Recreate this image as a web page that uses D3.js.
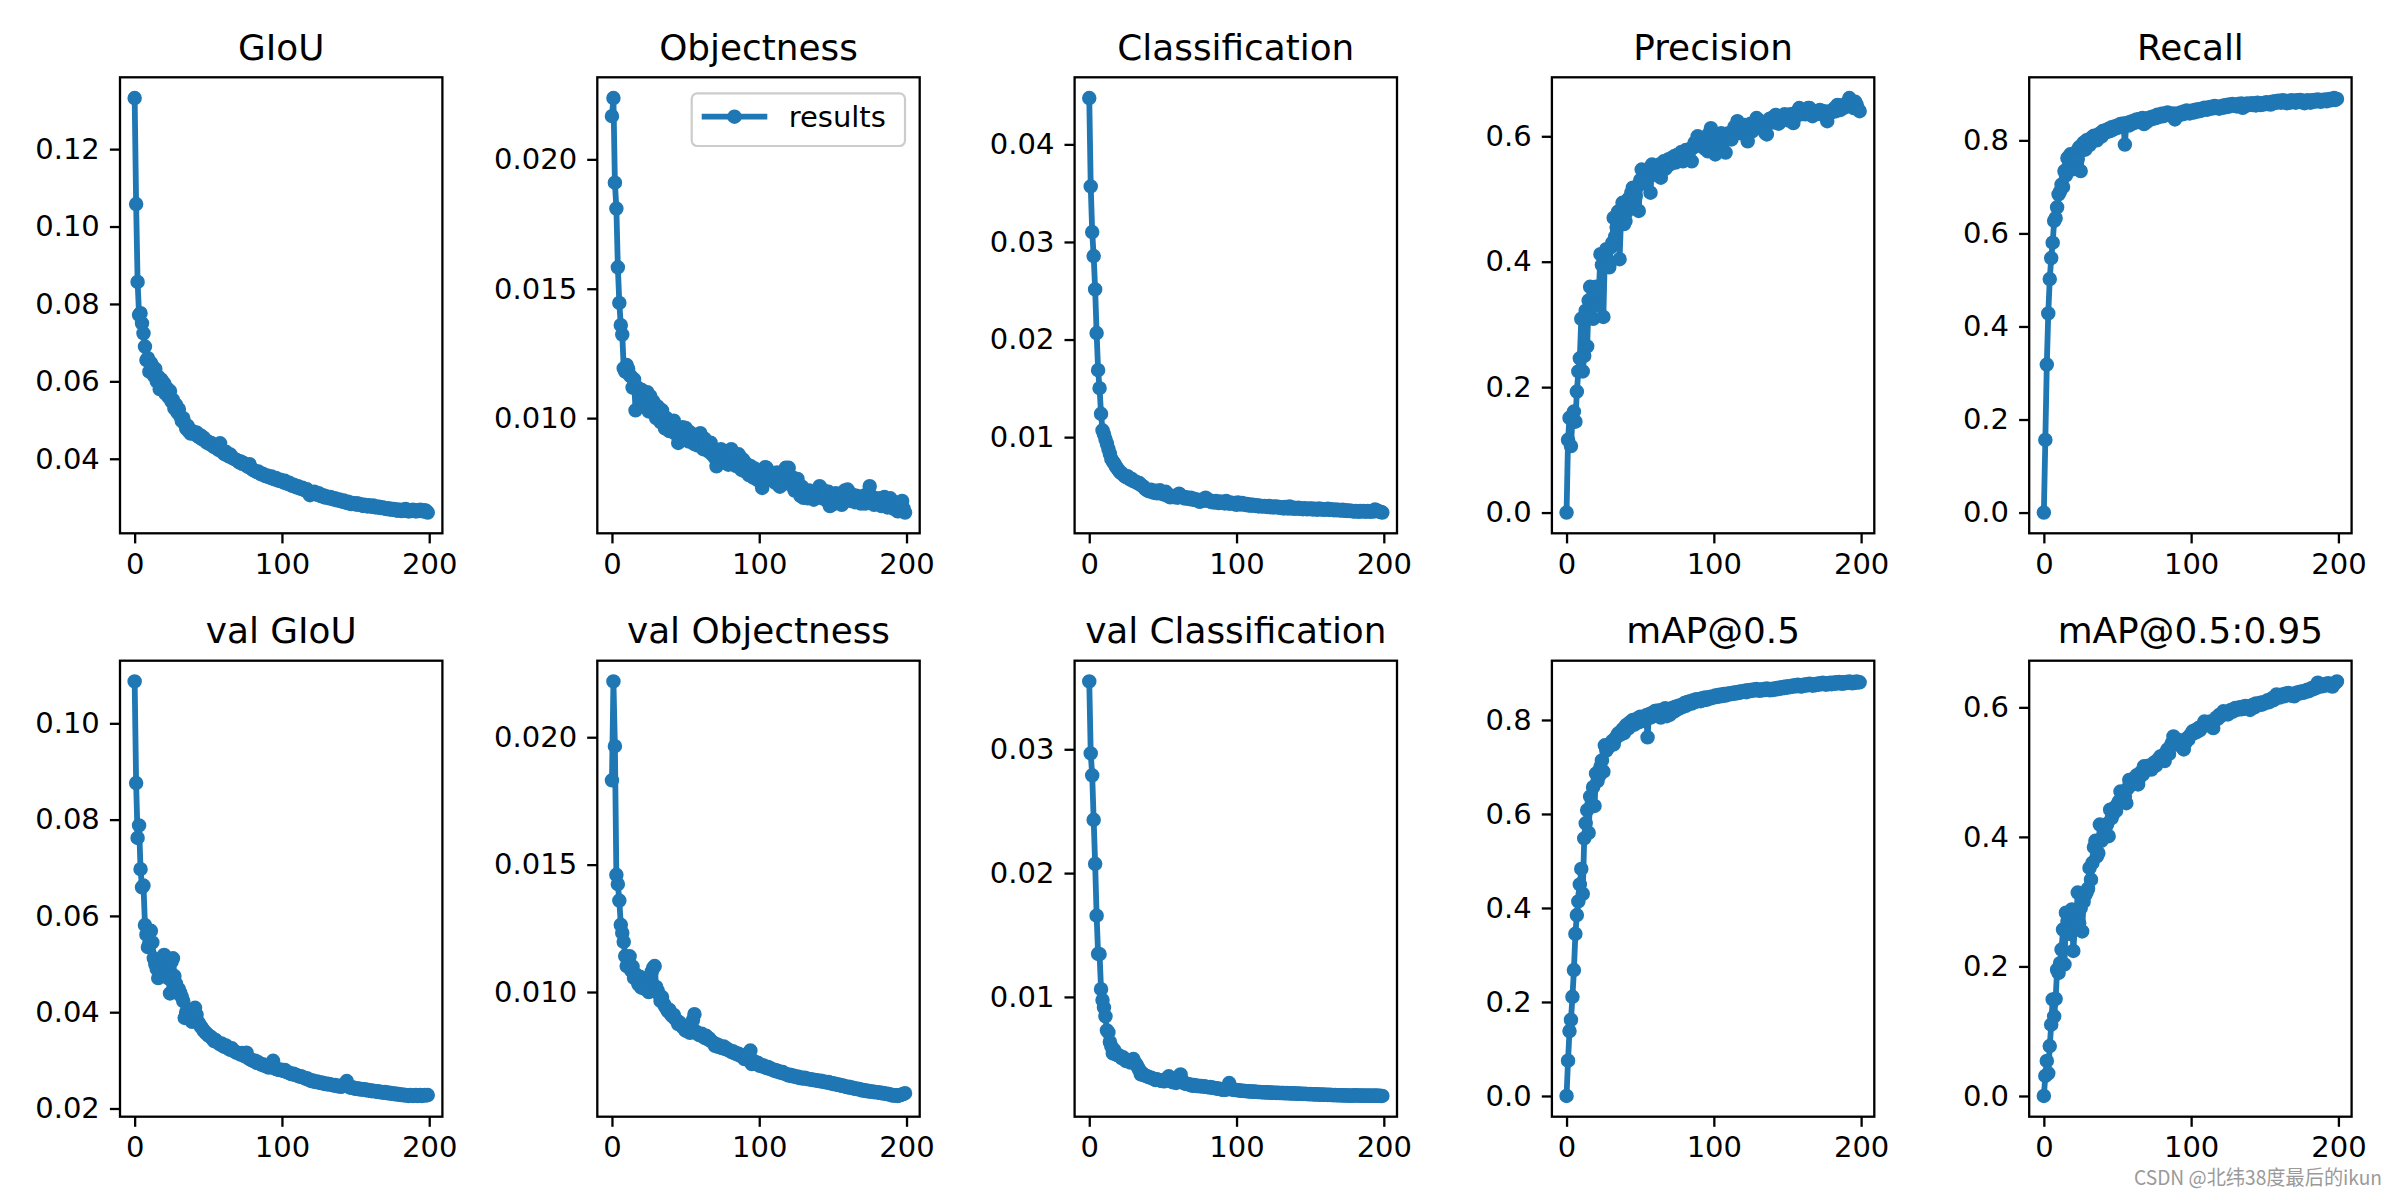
<!DOCTYPE html>
<html><head><meta charset="utf-8">
<script src="https://cdn.jsdelivr.net/npm/d3@7"></script>
<style>body{margin:0;background:#fff}svg{display:block}</style>
</head><body><svg id="c" width="2400" height="1200"></svg>
<script>
const epochs = d3.range(200);

const giou = [
0.1332,0.1058,0.0857,0.0772,0.0776,0.0750,0.0724,0.0690,0.0655,0.0660,
0.0625,0.0648,0.0640,0.0615,0.0632,0.0600,0.0612,0.0580,0.0605,0.0598,
0.0595,0.0568,0.0582,0.0560,0.0575,0.0548,0.0552,0.0530,0.0540,0.0520,
0.0528,0.0510,0.0498,0.0505,0.0490,0.0478,0.0485,0.0470,0.0465,0.0472,
0.0468,0.0463,0.0468,0.0458,0.0455,0.0460,0.0450,0.0454,0.0446,0.0442,
0.0444,0.0438,0.0441,0.0433,0.0430,0.0435,0.0427,0.0423,0.0440,0.0420,
0.0416,0.0412,0.0418,0.0409,0.0406,0.0411,0.0403,0.0401,0.0399,0.0397,
0.0395,0.0391,0.0393,0.0387,0.0389,0.0385,0.0382,0.0379,0.0386,0.0376,
0.0372,0.0370,0.0368,0.0366,0.0367,0.0362,0.0360,0.0361,0.0357,0.0355,
0.0357,0.0353,0.0351,0.0354,0.0349,0.0347,0.0350,0.0345,0.0343,0.0346,
0.0342,0.0339,0.0343,0.0337,0.0335,0.0338,0.0333,0.0330,0.0333,0.0328,
0.0326,0.0329,0.0324,0.0322,0.0325,0.0320,0.0318,0.0321,0.0316,0.0306,
0.0314,0.0312,0.0315,0.0310,0.0307,0.0311,0.0305,0.0303,0.0306,0.0300,
0.0303,0.0300,0.0298,0.0301,0.0297,0.0295,0.0298,0.0294,0.0292,0.0295,
0.0291,0.0289,0.0292,0.0288,0.0286,0.0289,0.0285,0.0283,0.0286,0.0284,
0.0282,0.0285,0.0281,0.0283,0.0280,0.0278,0.0281,0.0279,0.0277,0.0280,
0.0278,0.0276,0.0279,0.0275,0.0277,0.0274,0.0276,0.0273,0.0275,0.0272,
0.0273,0.0270,0.0272,0.0269,0.0271,0.0268,0.0270,0.0268,0.0266,0.0269,
0.0267,0.0265,0.0268,0.0266,0.0270,0.0266,0.0264,0.0267,0.0265,0.0268,
0.0266,0.0264,0.0267,0.0265,0.0268,0.0266,0.0264,0.0267,0.0265,0.0261];

const objectness = [
0.02167,0.02237,0.01910,0.01810,0.01583,0.01445,0.01359,0.01323,0.01192,0.01180,
0.01205,0.01190,0.01167,0.01160,0.01118,0.01150,0.01030,0.01120,0.01100,0.01080,
0.01110,0.01075,0.01095,0.01060,0.01100,0.01026,0.01085,0.01040,0.01065,0.01020,
0.01000,0.01045,0.01010,0.00985,0.01030,0.00990,0.00960,0.01000,0.00975,0.00950,
0.00974,0.00955,0.00990,0.00940,0.00960,0.00904,0.00950,0.00930,0.00965,0.00920,
0.00962,0.00935,0.00910,0.00945,0.00925,0.00923,0.00900,0.00935,0.00895,0.00915,
0.00942,0.00905,0.00880,0.00920,0.00895,0.00885,0.00870,0.00905,0.00860,0.00880,
0.00846,0.00814,0.00870,0.00840,0.00880,0.00855,0.00830,0.00870,0.00845,0.00820,
0.00859,0.00880,0.00835,0.00850,0.00815,0.00833,0.00860,0.00820,0.00800,0.00840,
0.00795,0.00825,0.00810,0.00780,0.00815,0.00800,0.00770,0.00805,0.00785,0.00760,
0.00769,0.00795,0.00730,0.00780,0.00810,0.00808,0.00770,0.00790,0.00760,0.00780,
0.00775,0.00750,0.00790,0.00760,0.00735,0.00744,0.00770,0.00790,0.00808,0.00780,
0.00808,0.00760,0.00740,0.00770,0.00720,0.00750,0.00765,0.00725,0.00700,0.00735,
0.00692,0.00715,0.00700,0.00690,0.00720,0.00695,0.00705,0.00685,0.00710,0.00700,
0.00705,0.00737,0.00710,0.00690,0.00720,0.00700,0.00680,0.00715,0.00660,0.00690,
0.00667,0.00695,0.00710,0.00680,0.00700,0.00690,0.00665,0.00700,0.00720,0.00690,
0.00724,0.00700,0.00680,0.00705,0.00690,0.00675,0.00700,0.00680,0.00695,0.00670,
0.00680,0.00700,0.00670,0.00690,0.00710,0.00737,0.00700,0.00680,0.00665,0.00690,
0.00685,0.00670,0.00690,0.00660,0.00680,0.00695,0.00670,0.00655,0.00680,0.00690,
0.00665,0.00650,0.00675,0.00655,0.00640,0.00641,0.00660,0.00680,0.00650,0.00635];

const classification = [
0.04475,0.03569,0.03102,0.02855,0.02514,0.02067,0.01686,0.01502,0.01239,0.01070,
0.01030,0.00980,0.00933,0.00880,0.00830,0.00776,0.00750,0.00730,0.00700,0.00680,
0.00660,0.00640,0.00630,0.00615,0.00600,0.00590,0.00600,0.00575,0.00565,0.00570,
0.00550,0.00545,0.00540,0.00525,0.00530,0.00510,0.00500,0.00490,0.00470,0.00460,
0.00450,0.00443,0.00460,0.00440,0.00430,0.00450,0.00425,0.00440,0.00455,0.00420,
0.00424,0.00410,0.00440,0.00400,0.00395,0.00384,0.00400,0.00390,0.00385,0.00395,
0.00380,0.00420,0.00405,0.00390,0.00380,0.00370,0.00385,0.00375,0.00365,0.00378,
0.00360,0.00368,0.00355,0.00362,0.00350,0.00337,0.00345,0.00360,0.00350,0.00380,
0.00365,0.00345,0.00350,0.00335,0.00340,0.00330,0.00345,0.00335,0.00325,0.00340,
0.00330,0.00335,0.00320,0.00345,0.00328,0.00318,0.00330,0.00322,0.00315,0.00325,
0.00306,0.00330,0.00318,0.00310,0.00325,0.00312,0.00305,0.00315,0.00300,0.00310,
0.00298,0.00308,0.00300,0.00295,0.00302,0.00290,0.00298,0.00292,0.00288,0.00295,
0.00290,0.00285,0.00295,0.00282,0.00288,0.00280,0.00286,0.00290,0.00278,0.00284,
0.00275,0.00282,0.00270,0.00285,0.00276,0.00268,0.00290,0.00272,0.00278,0.00266,
0.00274,0.00268,0.00276,0.00265,0.00270,0.00262,0.00272,0.00266,0.00260,0.00268,
0.00264,0.00270,0.00258,0.00266,0.00262,0.00256,0.00268,0.00260,0.00264,0.00255,
0.00262,0.00258,0.00265,0.00254,0.00260,0.00256,0.00252,0.00258,0.00250,0.00256,
0.00252,0.00248,0.00255,0.00246,0.00250,0.00244,0.00248,0.00242,0.00246,0.00240,
0.00238,0.00244,0.00240,0.00236,0.00242,0.00238,0.00244,0.00240,0.00236,0.00242,
0.00240,0.00236,0.00242,0.00238,0.00258,0.00250,0.00244,0.00236,0.00232,0.00227];

const precision = [
0.000,0.116,0.151,0.106,0.150,0.161,0.145,0.193,0.225,0.246,
0.309,0.225,0.250,0.322,0.265,0.338,0.360,0.330,0.309,0.350,
0.360,0.330,0.354,0.412,0.395,0.312,0.410,0.420,0.400,0.391,
0.423,0.430,0.470,0.440,0.455,0.480,0.404,0.470,0.494,0.460,
0.465,0.480,0.500,0.490,0.510,0.518,0.495,0.505,0.520,0.481,
0.530,0.547,0.530,0.525,0.540,0.545,0.535,0.510,0.555,0.545,
0.540,0.550,0.545,0.555,0.534,0.550,0.560,0.548,0.555,0.563,
0.555,0.565,0.560,0.568,0.558,0.570,0.562,0.571,0.575,0.560,
0.570,0.578,0.565,0.575,0.580,0.560,0.582,0.590,0.585,0.600,
0.595,0.585,0.590,0.598,0.580,0.590,0.576,0.605,0.613,0.600,
0.590,0.571,0.595,0.600,0.585,0.605,0.592,0.600,0.574,0.598,
0.605,0.600,0.595,0.608,0.615,0.610,0.624,0.612,0.605,0.615,
0.610,0.618,0.605,0.592,0.612,0.620,0.608,0.615,0.622,0.629,
0.618,0.625,0.615,0.622,0.610,0.605,0.603,0.620,0.628,0.625,
0.630,0.622,0.634,0.628,0.620,0.632,0.625,0.630,0.635,0.628,
0.632,0.625,0.635,0.628,0.621,0.630,0.638,0.640,0.645,0.635,
0.638,0.642,0.635,0.640,0.645,0.645,0.638,0.632,0.640,0.637,
0.640,0.636,0.642,0.638,0.635,0.640,0.630,0.624,0.635,0.640,
0.638,0.642,0.645,0.640,0.650,0.648,0.642,0.645,0.650,0.646,
0.648,0.655,0.661,0.652,0.648,0.645,0.655,0.650,0.643,0.640];

const recall = [
0.000,0.156,0.318,0.428,0.502,0.547,0.580,0.627,0.633,0.656,
0.684,0.690,0.705,0.700,0.734,0.725,0.762,0.745,0.770,0.765,
0.738,0.770,0.775,0.760,0.785,0.734,0.790,0.795,0.780,0.800,
0.800,0.790,0.805,0.798,0.810,0.807,0.800,0.812,0.815,0.808,
0.820,0.815,0.822,0.818,0.825,0.820,0.828,0.823,0.830,0.826,
0.832,0.828,0.835,0.830,0.836,0.791,0.834,0.838,0.832,0.840,
0.836,0.842,0.838,0.845,0.840,0.846,0.842,0.848,0.835,0.845,
0.840,0.848,0.845,0.850,0.846,0.852,0.848,0.855,0.850,0.853,
0.857,0.852,0.858,0.854,0.860,0.855,0.857,0.852,0.858,0.845,
0.852,0.858,0.855,0.860,0.856,0.862,0.858,0.864,0.860,0.858,
0.861,0.864,0.860,0.866,0.862,0.867,0.863,0.868,0.865,0.870,
0.869,0.866,0.871,0.868,0.872,0.869,0.874,0.870,0.872,0.868,
0.873,0.870,0.875,0.871,0.876,0.872,0.877,0.874,0.878,0.875,
0.876,0.873,0.878,0.875,0.879,0.870,0.877,0.874,0.879,0.876,
0.877,0.880,0.876,0.879,0.875,0.881,0.878,0.876,0.880,0.877,
0.879,0.882,0.878,0.881,0.877,0.883,0.880,0.884,0.881,0.885,
0.884,0.881,0.886,0.882,0.885,0.880,0.884,0.881,0.886,0.883,
0.885,0.881,0.886,0.883,0.887,0.882,0.885,0.880,0.884,0.886,
0.884,0.881,0.886,0.883,0.887,0.884,0.888,0.885,0.883,0.887,
0.885,0.888,0.884,0.887,0.889,0.886,0.888,0.891,0.887,0.889];

const valGiou = [
0.1087,0.0876,0.0762,0.0788,0.0697,0.0659,0.0663,0.0581,0.0561,0.0535,
0.0543,0.0569,0.0545,0.0512,0.0500,0.0490,0.0471,0.0505,0.0490,0.0478,
0.0519,0.0495,0.0480,0.0470,0.0439,0.0505,0.0512,0.0475,0.0460,0.0440,
0.0448,0.0440,0.0432,0.0423,0.0388,0.0400,0.0395,0.0390,0.0385,0.0380,
0.0402,0.0409,0.0395,0.0380,0.0375,0.0370,0.0366,0.0361,0.0358,0.0355,
0.0352,0.0350,0.0348,0.0344,0.0340,0.0342,0.0338,0.0336,0.0333,0.0335,
0.0330,0.0328,0.0331,0.0326,0.0324,0.0322,0.0325,0.0320,0.0318,0.0316,
0.0316,0.0314,0.0312,0.0315,0.0310,0.0308,0.0316,0.0305,0.0303,0.0301,
0.0300,0.0298,0.0299,0.0295,0.0296,0.0293,0.0291,0.0292,0.0289,0.0288,
0.0287,0.0285,0.0286,0.0290,0.0299,0.0284,0.0282,0.0281,0.0280,0.0281,
0.0279,0.0278,0.0280,0.0276,0.0275,0.0274,0.0272,0.0271,0.0272,0.0270,
0.0269,0.0268,0.0266,0.0267,0.0265,0.0264,0.0262,0.0263,0.0260,0.0259,
0.0257,0.0258,0.0256,0.0255,0.0256,0.0254,0.0253,0.0254,0.0252,0.0251,
0.0252,0.0250,0.0251,0.0250,0.0249,0.0248,0.0249,0.0247,0.0246,0.0247,
0.0245,0.0246,0.0248,0.0252,0.0257,0.0247,0.0244,0.0243,0.0244,0.0242,
0.0241,0.0242,0.0240,0.0241,0.0239,0.0240,0.0240,0.0238,0.0239,0.0237,
0.0238,0.0236,0.0237,0.0236,0.0235,0.0236,0.0234,0.0235,0.0233,0.0233,
0.0234,0.0232,0.0233,0.0231,0.0232,0.0231,0.0230,0.0231,0.0229,0.0230,
0.0229,0.0228,0.0229,0.0227,0.0228,0.0227,0.0226,0.0228,0.0227,0.0226,
0.0227,0.0228,0.0226,0.0227,0.0228,0.0226,0.0227,0.0228,0.0227,0.0228];

const valObjectness = [
0.01831,0.02219,0.01965,0.01460,0.01423,0.01359,0.01264,0.01232,0.01197,0.01141,
0.01102,0.01121,0.01140,0.01085,0.01100,0.01056,0.01070,0.01045,0.01030,0.01060,
0.01017,0.01040,0.01025,0.01010,0.01035,0.01000,0.01060,0.01080,0.01095,0.01102,
0.01020,0.01005,0.00990,0.00965,0.00980,0.00955,0.00945,0.00935,0.00925,0.00930,
0.00913,0.00905,0.00910,0.00895,0.00888,0.00874,0.00880,0.00870,0.00862,0.00866,
0.00848,0.00855,0.00845,0.00840,0.00860,0.00890,0.00913,0.00845,0.00838,0.00832,
0.00830,0.00836,0.00825,0.00820,0.00828,0.00815,0.00818,0.00808,0.00805,0.00800,
0.00789,0.00795,0.00785,0.00790,0.00782,0.00780,0.00786,0.00776,0.00778,0.00772,
0.00770,0.00765,0.00768,0.00760,0.00762,0.00755,0.00758,0.00750,0.00752,0.00745,
0.00737,0.00742,0.00735,0.00750,0.00770,0.00717,0.00730,0.00725,0.00720,0.00722,
0.00711,0.00715,0.00708,0.00712,0.00705,0.00702,0.00706,0.00698,0.00700,0.00695,
0.00691,0.00694,0.00688,0.00690,0.00685,0.00683,0.00686,0.00680,0.00678,0.00676,
0.00672,0.00675,0.00670,0.00672,0.00668,0.00666,0.00668,0.00663,0.00665,0.00661,
0.00662,0.00664,0.00659,0.00660,0.00657,0.00658,0.00655,0.00656,0.00653,0.00654,
0.00652,0.00650,0.00652,0.00648,0.00649,0.00646,0.00645,0.00647,0.00642,0.00643,
0.00639,0.00641,0.00638,0.00636,0.00637,0.00634,0.00632,0.00633,0.00630,0.00628,
0.00626,0.00628,0.00624,0.00625,0.00622,0.00620,0.00621,0.00618,0.00619,0.00616,
0.00613,0.00615,0.00612,0.00613,0.00610,0.00611,0.00609,0.00610,0.00607,0.00608,
0.00607,0.00605,0.00606,0.00603,0.00604,0.00601,0.00602,0.00599,0.00600,0.00597,
0.00594,0.00596,0.00593,0.00595,0.00592,0.00594,0.00596,0.00598,0.00600,0.00603];

const valClassification = [
0.03548,0.02966,0.02790,0.02430,0.02075,0.01656,0.01348,0.01345,0.01062,0.00975,
0.00914,0.00843,0.00729,0.00713,0.00636,0.00600,0.00544,0.00570,0.00540,0.00530,
0.00528,0.00520,0.00505,0.00512,0.00495,0.00482,0.00490,0.00480,0.00470,0.00485,
0.00498,0.00470,0.00455,0.00430,0.00410,0.00374,0.00385,0.00370,0.00365,0.00360,
0.00355,0.00350,0.00348,0.00342,0.00338,0.00328,0.00335,0.00330,0.00325,0.00322,
0.00320,0.00318,0.00325,0.00345,0.00359,0.00340,0.00315,0.00310,0.00312,0.00305,
0.00320,0.00360,0.00374,0.00330,0.00305,0.00300,0.00298,0.00295,0.00292,0.00290,
0.00282,0.00288,0.00285,0.00280,0.00283,0.00278,0.00281,0.00276,0.00279,0.00274,
0.00273,0.00270,0.00272,0.00268,0.00266,0.00264,0.00262,0.00260,0.00258,0.00256,
0.00251,0.00254,0.00250,0.00252,0.00275,0.00304,0.00265,0.00252,0.00250,0.00249,
0.00248,0.00246,0.00245,0.00243,0.00242,0.00240,0.00241,0.00239,0.00238,0.00237,
0.00236,0.00235,0.00236,0.00234,0.00233,0.00232,0.00233,0.00231,0.00230,0.00231,
0.00229,0.00230,0.00228,0.00229,0.00227,0.00226,0.00227,0.00225,0.00226,0.00224,
0.00225,0.00223,0.00224,0.00222,0.00223,0.00221,0.00222,0.00220,0.00221,0.00219,
0.00220,0.00218,0.00219,0.00217,0.00218,0.00216,0.00217,0.00215,0.00216,0.00214,
0.00215,0.00213,0.00214,0.00212,0.00213,0.00211,0.00212,0.00210,0.00211,0.00210,
0.00209,0.00210,0.00208,0.00209,0.00207,0.00208,0.00206,0.00207,0.00206,0.00205,
0.00206,0.00205,0.00204,0.00205,0.00203,0.00204,0.00203,0.00202,0.00203,0.00202,
0.00205,0.00204,0.00203,0.00204,0.00202,0.00203,0.00202,0.00203,0.00201,0.00202,
0.00203,0.00202,0.00201,0.00202,0.00203,0.00201,0.00202,0.00201,0.00200,0.00200];

const map50 = [
0.000,0.075,0.138,0.162,0.211,0.268,0.345,0.385,0.414,0.450,
0.483,0.430,0.548,0.580,0.608,0.560,0.637,0.620,0.657,0.617,
0.686,0.670,0.680,0.700,0.714,0.690,0.746,0.735,0.740,0.745,
0.750,0.755,0.748,0.760,0.765,0.771,0.768,0.775,0.780,0.772,
0.787,0.790,0.782,0.795,0.792,0.800,0.790,0.798,0.803,0.795,
0.807,0.800,0.805,0.798,0.810,0.763,0.812,0.805,0.815,0.808,
0.819,0.812,0.820,0.815,0.805,0.822,0.818,0.825,0.808,0.820,
0.811,0.822,0.826,0.818,0.828,0.822,0.830,0.825,0.832,0.828,
0.836,0.830,0.838,0.834,0.840,0.835,0.842,0.838,0.844,0.840,
0.844,0.840,0.846,0.842,0.848,0.843,0.845,0.849,0.846,0.850,
0.848,0.852,0.849,0.853,0.850,0.854,0.851,0.855,0.852,0.856,
0.854,0.857,0.855,0.858,0.856,0.859,0.857,0.860,0.858,0.861,
0.860,0.862,0.859,0.863,0.861,0.864,0.862,0.865,0.863,0.866,
0.864,0.862,0.865,0.863,0.866,0.864,0.867,0.865,0.863,0.866,
0.864,0.867,0.865,0.868,0.866,0.869,0.867,0.870,0.868,0.871,
0.869,0.872,0.870,0.873,0.871,0.874,0.872,0.875,0.873,0.871,
0.872,0.875,0.873,0.876,0.874,0.877,0.875,0.873,0.876,0.874,
0.877,0.875,0.878,0.876,0.879,0.877,0.875,0.878,0.876,0.879,
0.876,0.879,0.877,0.880,0.878,0.881,0.879,0.877,0.880,0.878,
0.881,0.879,0.882,0.880,0.878,0.881,0.879,0.882,0.880,0.880];

const map5095 = [
0.000,0.031,0.054,0.035,0.077,0.110,0.149,0.123,0.150,0.195,
0.190,0.205,0.226,0.257,0.203,0.283,0.270,0.260,0.250,0.288,
0.224,0.260,0.275,0.314,0.267,0.290,0.254,0.300,0.310,0.314,
0.320,0.352,0.334,0.360,0.384,0.394,0.370,0.375,0.419,0.394,
0.400,0.410,0.415,0.420,0.401,0.442,0.429,0.435,0.445,0.440,
0.450,0.455,0.470,0.460,0.465,0.462,0.452,0.475,0.488,0.480,
0.485,0.490,0.484,0.495,0.481,0.492,0.500,0.496,0.509,0.502,
0.505,0.510,0.506,0.504,0.512,0.515,0.510,0.518,0.520,0.524,
0.520,0.526,0.517,0.530,0.535,0.528,0.540,0.545,0.555,0.548,
0.545,0.550,0.542,0.548,0.538,0.535,0.545,0.552,0.550,0.556,
0.558,0.563,0.560,0.565,0.562,0.568,0.565,0.570,0.572,0.578,
0.574,0.576,0.572,0.578,0.575,0.568,0.580,0.584,0.582,0.588,
0.586,0.590,0.594,0.590,0.592,0.589,0.594,0.596,0.593,0.597,
0.599,0.596,0.598,0.600,0.597,0.601,0.598,0.602,0.600,0.598,
0.596,0.602,0.604,0.600,0.606,0.603,0.605,0.607,0.604,0.608,
0.606,0.609,0.611,0.608,0.612,0.614,0.611,0.616,0.620,0.617,
0.615,0.618,0.620,0.617,0.621,0.619,0.622,0.620,0.618,0.621,
0.617,0.620,0.623,0.621,0.624,0.622,0.625,0.623,0.626,0.627,
0.625,0.628,0.630,0.628,0.632,0.630,0.638,0.634,0.632,0.635,
0.633,0.636,0.634,0.637,0.635,0.633,0.632,0.636,0.638,0.640];

const titles = ["GIoU","Objectness","Classification","Precision","Recall",
  "val GIoU","val Objectness","val Classification","mAP@0.5","mAP@0.5:0.95"];
const xTicks = [0,100,200];
const yTicks = [
  [0.04,0.06,0.08,0.10,0.12],[0.010,0.015,0.020],[0.01,0.02,0.03,0.04],[0,0.2,0.4,0.6],[0,0.2,0.4,0.6,0.8],
  [0.02,0.04,0.06,0.08,0.10],[0.010,0.015,0.020],[0.01,0.02,0.03],[0,0.2,0.4,0.6,0.8],[0,0.2,0.4,0.6]];
const yFormats = [".2f",".3f",".2f",".1f",".1f",".2f",".3f",".2f",".1f",".1f"];
const legendLabel = "results";
const watermark = "CSDN @北纬38度最后的ikun";

// ---- layout / style ----
const series = [giou,objectness,classification,precision,recall,valGiou,valObjectness,valClassification,map50,map5095];
const BLUE = "#1f77b4";
const FONT = "'DejaVu Sans', sans-serif";
const left0 = 120, colStep = 477.3, pw = 322.4, ph = 456;
const rowTops = [77.3, 660.7];
const tickLen = 10.1, tickPad = 10.1, lw = 2.3;
const tickFont = "29px", titleFont = "35.8px";
const lineW = 5.8, mR = 5.8, mSW = 2.9;

const svg = d3.select("#c");
svg.append("rect").attr("width",2400).attr("height",1200).attr("fill","#fff");

series.forEach((vals, i) => {
  const col = i % 5, row = Math.floor(i / 5);
  const g = svg.append("g").attr("transform", `translate(${left0 + col*colStep},${rowTops[row]})`);
  const x = d3.scaleLinear().domain([-9.95, 208.95]).range([0, pw]);
  const [mn, mx] = d3.extent(vals);
  const pad = (mx - mn) * 0.05;
  const y = d3.scaleLinear().domain([mn - pad, mx + pad]).range([ph, 0]);

  const line = d3.line().x((d, j) => x(epochs[j])).y(d => y(d));
  g.append("path").datum(vals).attr("d", line)
    .attr("fill","none").attr("stroke",BLUE).attr("stroke-width",lineW)
    .attr("stroke-linejoin","round");
  g.append("g").selectAll("circle").data(vals).join("circle")
    .attr("cx",(d,j)=>x(epochs[j])).attr("cy",d=>y(d)).attr("r",mR)
    .attr("fill",BLUE).attr("stroke",BLUE).attr("stroke-width",mSW);

  const ya = g.append("g").call(d3.axisLeft(y).tickValues(yTicks[i]).tickFormat(d3.format(yFormats[i]))
      .tickSize(tickLen).tickPadding(tickPad));
  const xa = g.append("g").attr("transform",`translate(0,${ph})`)
    .call(d3.axisBottom(x).tickValues(xTicks).tickFormat(d3.format("d")).tickSize(tickLen).tickPadding(tickPad));
  [ya, xa].forEach(a => {
    a.select(".domain").remove();
    a.selectAll(".tick line").attr("stroke","#000").attr("stroke-width",lw);
    a.selectAll(".tick text").attr("fill","#000").style("font-family",FONT).style("font-size",tickFont);
  });

  g.append("rect").attr("width",pw).attr("height",ph).attr("fill","none")
    .attr("stroke","#000").attr("stroke-width",lw);

  g.append("text").attr("x",pw/2).attr("y",-17.3).attr("text-anchor","middle")
    .style("font-family",FONT).style("font-size",titleFont).attr("fill","#000").text(titles[i]);

  if (i === 1) {
    const lg = g.append("g").attr("transform","translate(94.4,16)");
    lg.append("rect").attr("width",213.3).attr("height",52.7).attr("rx",5.5)
      .attr("fill","#fff").attr("fill-opacity",0.8).attr("stroke","#cccccc").attr("stroke-width",2.2);
    lg.append("line").attr("x1",10).attr("x2",75.6).attr("y1",23.4).attr("y2",23.4)
      .attr("stroke",BLUE).attr("stroke-width",lineW);
    lg.append("circle").attr("cx",42.8).attr("cy",23.4).attr("r",mR)
      .attr("fill",BLUE).attr("stroke",BLUE).attr("stroke-width",mSW);
    lg.append("text").attr("x",97).attr("y",23.4).attr("dy","0.35em")
      .style("font-family",FONT).style("font-size",tickFont).attr("fill","#000").text(legendLabel);
  }
});

svg.append("text").attr("x",2382).attr("y",1185).attr("text-anchor","end")
  .attr("textLength",248).attr("lengthAdjust","spacingAndGlyphs")
  .style("font-family","'Noto Sans CJK SC', sans-serif").style("font-size","20px")
  .attr("fill","#9a9a9a").text(watermark);
</script>
</body></html>
